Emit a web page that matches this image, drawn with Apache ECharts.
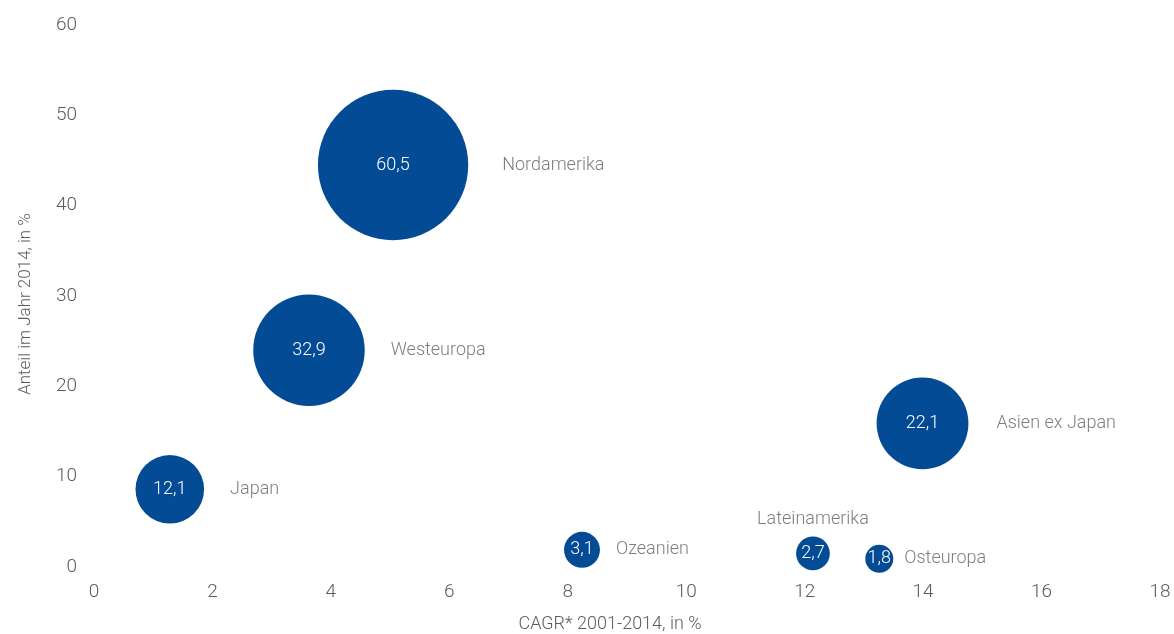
<!DOCTYPE html>
<html>
<head>
<meta charset="utf-8">
<script src="https://cdn.jsdelivr.net/npm/echarts@6/dist/echarts.min.js"></script>
<style>
html,body{margin:0;padding:0;background:#fff;}
#chart{width:1174px;height:634px;}
</style>
</head>
<body>
<div id="chart"></div>
<script>
// ---- data ----
var regions = ['Nordamerika', 'Westeuropa', 'Japan', 'Asien ex Japan', 'Ozeanien', 'Lateinamerika', 'Osteuropa'];
var cagr    = [5.05, 3.63, 1.28, 13.99, 8.24, 12.14, 13.26];   // x: CAGR 2001-2014, %
var share   = [44.5, 24.0, 8.6, 15.9, 1.9, 1.5, 0.9];          // y: Anteil im Jahr 2014, %
var volume  = [60.5, 32.9, 12.1, 22.1, 3.1, 2.7, 1.8];          // bubble size / value label
var xTicks  = [0, 2, 4, 6, 8, 10, 12, 14, 16, 18];
var yTicks  = [0, 10, 20, 30, 40, 50, 60];

// ---- styling (not data) ----
var FONT = "Roboto, 'Liberation Sans', sans-serif";
var BLUE = '#034b94';
var GREY = '#5c5c5c';
var nameLabelLayout = {
  'Nordamerika':   {position: 'right', distance: 34},
  'Westeuropa':    {position: 'right', distance: 26},
  'Japan':         {position: 'right', distance: 26},
  'Asien ex Japan':{position: 'right', distance: 28},
  'Ozeanien':      {position: 'right', distance: 16},
  'Lateinamerika': {position: 'top',   distance: 8},
  'Osteuropa':     {position: 'right', distance: 11}
};
function bubbleSize(v) { return 19 * Math.sqrt(v) + 2.5; }
function fmt(v) { return v.toFixed(1).replace('.', ','); }

var points = regions.map(function (r, i) {
  return { name: r, value: [cagr[i], share[i], volume[i]] };
});
var namePoints = regions.map(function (r, i) {
  var l = nameLabelLayout[r];
  return {
    name: r,
    value: [cagr[i], share[i], volume[i]],
    label: { position: l.position, distance: l.distance }
  };
});

var txt = { fontFamily: FONT, fontWeight: 300, color: GREY };

var chart = echarts.init(document.getElementById('chart'), null, {renderer: 'canvas'});
chart.setOption({
  animation: false,
  backgroundColor: '#ffffff',
  grid: { left: 94, right: 14, top: 25, bottom: 67, outerBoundsMode: 'none', containLabel: false },
  xAxis: {
    type: 'value', min: xTicks[0], max: xTicks[xTicks.length - 1], interval: 2,
    name: 'CAGR* 2001-2014, in %', nameLocation: 'middle', nameGap: 48,
    nameTextStyle: Object.assign({ fontSize: 18, padding: [0, 34, 0, 0] }, txt),
    axisLine: { show: false }, axisTick: { show: false }, splitLine: { show: false },
    axisLabel: Object.assign({ fontSize: 19, margin: 16 }, txt)
  },
  yAxis: {
    type: 'value', min: yTicks[0], max: yTicks[yTicks.length - 1], interval: 10,
    name: 'Anteil im Jahr 2014, in %', nameLocation: 'middle', nameGap: 60,
    nameTextStyle: Object.assign({ fontSize: 17, padding: [0, 16, 0, 0] }, txt),
    axisLine: { show: false }, axisTick: { show: false }, splitLine: { show: false },
    axisLabel: Object.assign({ fontSize: 19, margin: 17 }, txt)
  },
  series: [
    {
      type: 'scatter',
      data: points,
      symbol: 'circle',
      symbolSize: function (d) { return bubbleSize(d[2]); },
      itemStyle: { color: BLUE, opacity: 1 },
      label: {
        show: true, position: 'inside',
        formatter: function (p) { return fmt(p.value[2]); },
        fontFamily: FONT, fontWeight: 300, fontSize: 18, color: '#ffffff'
      },
      emphasis: { disabled: true },
      z: 2
    },
    {
      type: 'scatter',
      data: namePoints,
      symbol: 'circle',
      symbolSize: function (d) { return bubbleSize(d[2]); },
      itemStyle: { color: 'rgba(0,0,0,0)' },
      label: Object.assign({
        show: true,
        formatter: function (p) { return p.name; },
        fontSize: 18
      }, txt),
      emphasis: { disabled: true },
      silent: true,
      z: 3
    }
  ]
});
</script>
</body>
</html>
